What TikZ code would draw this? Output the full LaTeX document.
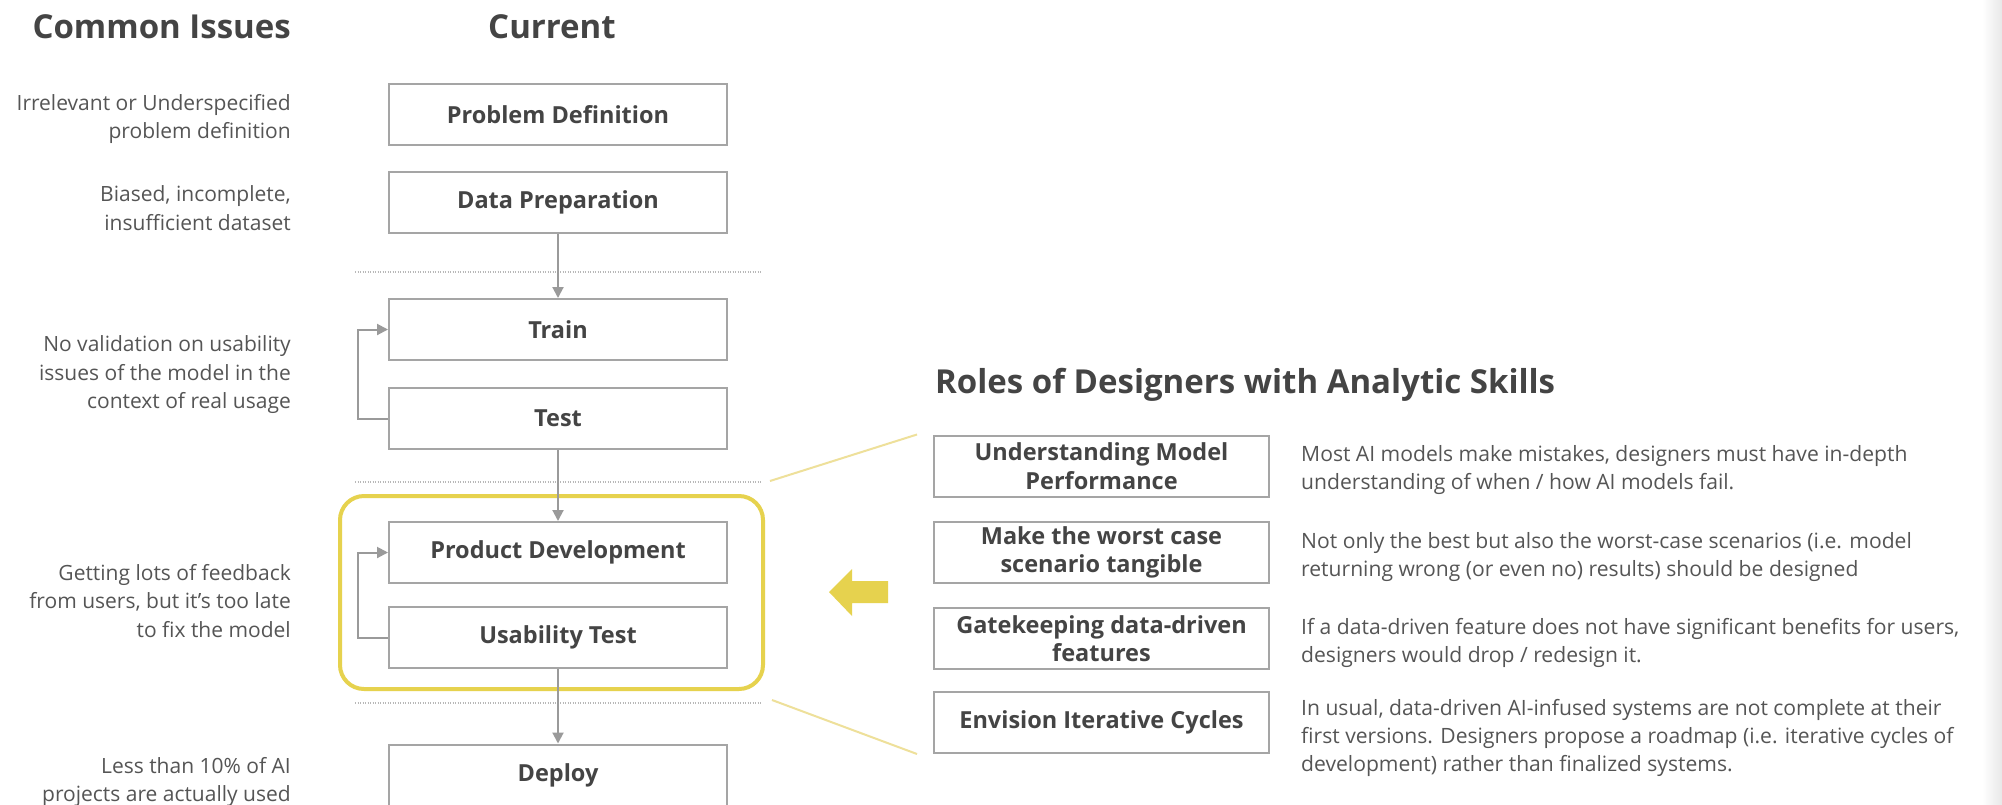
\documentclass[tikz,border=0pt]{standalone}
\usepackage{fontspec}
\setmainfont{Open Sans}
\usetikzlibrary{arrows.meta}
\definecolor{boxline}{HTML}{A5A5A5}
\definecolor{txt}{HTML}{555555}
\definecolor{boxtxt}{HTML}{444444}
\definecolor{ylw}{HTML}{E6D24E}
\definecolor{ylwl}{HTML}{EEE09A}
\definecolor{arr}{HTML}{9A9A9A}
\definecolor{dots}{HTML}{B8B8B8}
\begin{document}
\begin{tikzpicture}[x=1pt,y=-1pt,
  flowbox/.style={draw=boxline, line width=2pt, minimum width=338pt, minimum height=61pt, inner sep=0pt, text=boxtxt, font=\fontsize{23.5}{28.5}\selectfont\bfseries, align=center},
  rolebox/.style={flowbox, minimum width=335pt},
  issue/.style={anchor=east, align=right, text=txt, font=\fontsize{21}{28.5}\selectfont, inner sep=0pt},
  desc/.style={anchor=west, align=left, text=txt, font=\fontsize{21.1}{28}\selectfont, inner sep=0pt},
  heading/.style={text=boxtxt, font=\fontsize{33}{38}\selectfont\bfseries, inner sep=0pt},
  flow/.style={draw=arr, line width=2pt, -{Triangle[length=11pt,width=11pt]}},
  sep/.style={draw=dots, line width=2.5pt, dash pattern=on 1.2pt off 1.3pt},
  callout/.style={draw=ylwl, line width=2pt}
]
\clip (0,0) rectangle (2002,804);
\fill[white] (0,0) rectangle (2002,804);
\shade[left color=white, right color=gray!18] (1982,0) rectangle (2002,804);

% headings
\node[heading, anchor=base east] (hIssues) at (291,38) {Common Issues};
\node[heading, anchor=base] (hCurrent) at (552,38) {Current};
\node[heading, anchor=base west] (hRoles) at (935,393) {Roles of Designers with Analytic Skills};

% separators
\draw[sep] (355,272) -- (761,272);
\draw[sep] (355,482) -- (761,482);
\draw[sep] (355,703) -- (761,703);
\coordinate (s2r) at (770,481);
\coordinate (s3r) at (772,700);

% focus frame
\node[draw=ylw, line width=4pt, rounded corners=24pt, minimum width=423pt, minimum height=193pt, inner sep=0pt] (focus) at (551.5,592.5) {};

% flow boxes
\node[flowbox] (pd) at (558,114.5) {Problem Definition};
\node[flowbox] (dp) at (558,202.5) {Data Preparation};
\node[flowbox] (train) at (558,329.5) {Train};
\node[flowbox] (test) at (558,418.5) {Test};
\node[flowbox] (pdev) at (558,552.5) {Product Development};
\node[flowbox] (ut) at (558,637.5) {Usability Test};
\node[flowbox] (deploy) at (558,775) {Deploy};

% flow connectors
\draw[flow] (dp) -- (train);
\draw[flow] (test) -- (pdev);
\draw[flow] (ut) -- (deploy);
\draw[flow] (test.west) -- ++(-30,0) |- (train.west);
\draw[flow] (ut.west) -- ++(-30,0) |- (pdev.west);

% issues
\node[issue] (i1) at (291,119) {Irrelevant or Underspecified\\problem definition};
\node[issue] (i2) at (291,208) {Biased, incomplete,\\insufficient dataset};
\node[issue] (i3) at (291,375) {No validation on usability\\issues of the model in the\\context of real usage};
\node[issue] (i4) at (291,601) {Getting lots of feedback\\from users, but it’s too late\\to fix the model};
\node[issue] (i5) at (291,782) {Less than 10\% of AI\\projects are actually used};

% roles
\node[rolebox] (r1) at (1101.5,466) {Understanding Model\\Performance};
\node[rolebox] (r2) at (1101.5,552.5) {Make the worst case\\scenario tangible};
\node[rolebox] (r3) at (1101.5,638.5) {Gatekeeping data-driven\\features};
\node[rolebox] (r4) at (1101.5,722.5) {Envision Iterative Cycles};

\node[desc] (d1) at (1301,470) {Most AI models make mistakes, designers must have in-depth\\understanding of when / how AI models fail.};
\node[desc] (d2) at (1301,557) {Not only the best but also the worst-case scenarios (i.e. model\\returning wrong (or even no) results) should be designed};
\node[desc] (d3) at (1301,643) {If a data-driven feature does not have significant benefits for users,\\designers would drop / redesign it.};
\node[desc] (d4) at (1301,738) {In usual, data-driven AI-infused systems are not complete at their\\first versions. Designers propose a roadmap (i.e. iterative cycles of\\development) rather than finalized systems.};

% callout lines
\draw[callout] (s2r) -- ([xshift=-16pt]r1.north west);
\draw[callout] (s3r) -- ([xshift=-16pt]r4.south west);

% yellow arrow
\fill[ylw] (829,592) -- (852,569) -- (852,581) -- (888,581) -- (888,603) -- (852,603) -- (852,616) -- cycle;
\end{tikzpicture}
\end{document}
